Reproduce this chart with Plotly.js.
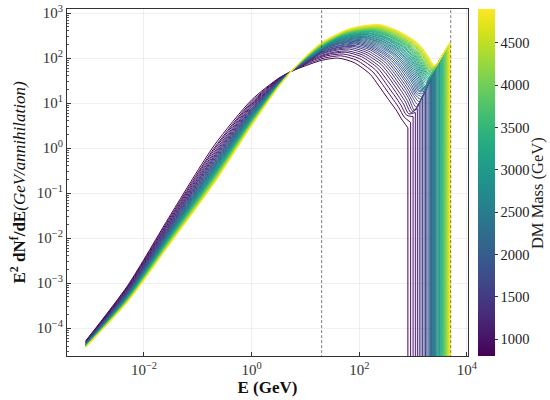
<!DOCTYPE html>
<html>
<head>
<meta charset="utf-8">
<script src="https://cdn.plot.ly/plotly-3.0.1.min.js"></script>
<style>html,body{margin:0;padding:0;background:#fff;}#chart{width:550px;height:400px;}</style>
</head>
<body>
<div id="chart"></div>
<script>
// Dark-matter masses (GeV), one spectrum per mass
const masses = [800,900,1000,1100,1200,1300,1400,1500,1600,1700,1800,1900,2000,2100,2200,2300,2400,2500,2600,2700,2800,2900,3000,3100,3200,3300,3400,3500,3600,3700,3800,3900,4000,4100,4200,4300,4400,4500,4600,4700,4800,4900];

// log10(E/GeV) for the low-energy part (fixed energies)
const logE_abs = [-3.08, -2.3, -1.5, -0.7, 0.0, 0.5, 0.73, 1.0, 1.3];
// log10(E/m) for the high-energy part (relative to the DM mass)
const u_rel = [-1.9, -1.6, -1.3, -1.0, -0.7, -0.55, -0.42, -0.3, -0.22, -0.12, 0];

// log10(E^2 dN/dE) at logE_abs (null = not used for that mass)
const logY_abs = [
[-4.28,-3.05,-1.47,0.05,1.07,1.55,1.70,null,null],
[-4.29,-3.07,-1.51,-0.01,1.03,1.54,1.70,null,null],
[-4.30,-3.09,-1.55,-0.05,1.00,1.53,1.70,null,null],
[-4.30,-3.11,-1.58,-0.10,0.97,1.52,1.70,null,null],
[-4.31,-3.13,-1.61,-0.14,0.94,1.51,1.70,1.87,null],
[-4.32,-3.15,-1.64,-0.18,0.92,1.50,1.70,1.88,null],
[-4.32,-3.16,-1.66,-0.21,0.89,1.49,1.70,1.89,null],
[-4.33,-3.18,-1.69,-0.24,0.87,1.48,1.70,1.90,null],
[-4.33,-3.19,-1.71,-0.27,0.85,1.48,1.70,1.91,null],
[-4.34,-3.20,-1.73,-0.30,0.83,1.47,1.70,1.91,null],
[-4.34,-3.21,-1.75,-0.33,0.82,1.47,1.70,1.92,null],
[-4.35,-3.22,-1.77,-0.35,0.80,1.46,1.70,1.93,null],
[-4.35,-3.23,-1.79,-0.38,0.78,1.45,1.70,1.93,null],
[-4.35,-3.24,-1.81,-0.40,0.77,1.45,1.70,1.94,null],
[-4.36,-3.25,-1.82,-0.42,0.75,1.44,1.70,1.94,null],
[-4.36,-3.26,-1.84,-0.44,0.74,1.44,1.70,1.95,2.18],
[-4.37,-3.27,-1.85,-0.46,0.73,1.44,1.70,1.95,2.19],
[-4.37,-3.28,-1.87,-0.48,0.71,1.43,1.70,1.96,2.20],
[-4.37,-3.28,-1.88,-0.50,0.70,1.43,1.70,1.96,2.20],
[-4.37,-3.29,-1.89,-0.51,0.69,1.42,1.70,1.96,2.21],
[-4.38,-3.30,-1.91,-0.53,0.68,1.42,1.70,1.97,2.22],
[-4.38,-3.31,-1.92,-0.55,0.66,1.41,1.70,1.97,2.23],
[-4.38,-3.31,-1.93,-0.56,0.65,1.41,1.70,1.98,2.23],
[-4.39,-3.32,-1.94,-0.58,0.64,1.41,1.70,1.98,2.24],
[-4.39,-3.33,-1.95,-0.59,0.63,1.40,1.70,1.98,2.25],
[-4.39,-3.33,-1.96,-0.61,0.62,1.40,1.70,1.99,2.26],
[-4.39,-3.34,-1.97,-0.62,0.62,1.40,1.70,1.99,2.26],
[-4.39,-3.34,-1.98,-0.63,0.61,1.40,1.70,1.99,2.27],
[-4.40,-3.35,-1.99,-0.65,0.60,1.39,1.70,2.00,2.27],
[-4.40,-3.35,-2.00,-0.66,0.59,1.39,1.70,2.00,2.28],
[-4.40,-3.36,-2.01,-0.67,0.58,1.39,1.70,2.00,2.29],
[-4.40,-3.37,-2.02,-0.68,0.57,1.38,1.70,2.01,2.29],
[-4.40,-3.37,-2.03,-0.70,0.56,1.38,1.70,2.01,2.30],
[-4.41,-3.38,-2.04,-0.71,0.56,1.38,1.70,2.01,2.30],
[-4.41,-3.38,-2.05,-0.72,0.55,1.38,1.70,2.01,2.31],
[-4.41,-3.38,-2.06,-0.73,0.54,1.37,1.70,2.02,2.31],
[-4.41,-3.39,-2.06,-0.74,0.53,1.37,1.70,2.02,2.32],
[-4.41,-3.39,-2.07,-0.75,0.53,1.37,1.70,2.02,2.32],
[-4.42,-3.40,-2.08,-0.76,0.52,1.37,1.70,2.02,2.33],
[-4.42,-3.40,-2.09,-0.77,0.51,1.36,1.70,2.03,2.33],
[-4.42,-3.41,-2.09,-0.78,0.51,1.36,1.70,2.03,2.34],
[-4.42,-3.41,-2.10,-0.79,0.50,1.36,1.70,2.03,2.34]
];

// log10(E^2 dN/dE) at E = m * 10^u_rel
const logY_rel = [
[1.83,1.95,2.00,1.90,1.64,1.40,1.18,0.98,0.85,0.65,0.45],
[1.88,2.00,2.05,1.95,1.69,1.46,1.24,1.04,0.90,0.69,0.57],
[1.93,2.05,2.09,1.99,1.74,1.51,1.29,1.09,0.94,0.73,0.70],
[1.97,2.09,2.13,2.03,1.78,1.55,1.34,1.13,0.98,0.76,0.79],
[2.01,2.12,2.16,2.06,1.81,1.60,1.38,1.17,1.02,0.79,0.88],
[2.05,2.16,2.20,2.09,1.85,1.63,1.42,1.21,1.05,0.82,0.97],
[2.08,2.19,2.23,2.12,1.88,1.67,1.45,1.25,1.09,0.84,1.06],
[2.11,2.22,2.26,2.15,1.91,1.70,1.49,1.28,1.11,0.91,1.15],
[2.14,2.24,2.28,2.18,1.94,1.73,1.52,1.31,1.14,0.97,1.21],
[2.17,2.27,2.31,2.20,1.96,1.76,1.55,1.34,1.17,1.03,1.27],
[2.19,2.29,2.33,2.22,1.99,1.79,1.57,1.37,1.19,1.09,1.33],
[2.22,2.32,2.35,2.24,2.01,1.82,1.60,1.39,1.21,1.15,1.39],
[2.24,2.34,2.37,2.26,2.03,1.84,1.63,1.42,1.23,1.21,1.45],
[2.26,2.36,2.39,2.28,2.06,1.86,1.65,1.44,1.26,1.26,1.50],
[2.28,2.38,2.41,2.30,2.08,1.89,1.67,1.46,1.27,1.31,1.55],
[2.30,2.40,2.43,2.32,2.09,1.91,1.69,1.48,1.29,1.36,1.60],
[2.32,2.42,2.45,2.34,2.11,1.93,1.71,1.50,1.31,1.41,1.65],
[2.34,2.43,2.46,2.35,2.13,1.95,1.73,1.52,1.33,1.46,1.70],
[2.36,2.45,2.48,2.37,2.15,1.97,1.75,1.54,1.34,1.50,1.74],
[2.37,2.47,2.49,2.38,2.16,1.98,1.77,1.56,1.36,1.55,1.79],
[2.39,2.48,2.51,2.40,2.18,2.00,1.79,1.57,1.39,1.59,1.83],
[2.41,2.50,2.52,2.41,2.19,2.02,1.81,1.59,1.44,1.64,1.88],
[2.42,2.51,2.54,2.43,2.21,2.03,1.82,1.61,1.48,1.68,1.92],
[2.44,2.53,2.55,2.44,2.22,2.05,1.84,1.62,1.51,1.71,1.95],
[2.45,2.54,2.56,2.45,2.24,2.07,1.85,1.64,1.54,1.74,1.98],
[2.46,2.55,2.58,2.46,2.25,2.08,1.87,1.65,1.56,1.76,2.00],
[2.48,2.57,2.59,2.48,2.26,2.10,1.88,1.67,1.59,1.79,2.03],
[2.49,2.58,2.60,2.49,2.28,2.11,1.90,1.68,1.62,1.82,2.06],
[2.50,2.59,2.61,2.50,2.29,2.12,1.91,1.69,1.64,1.84,2.08],
[2.51,2.60,2.62,2.51,2.30,2.14,1.92,1.71,1.67,1.87,2.11],
[2.53,2.61,2.63,2.52,2.31,2.15,1.94,1.72,1.69,1.89,2.13],
[2.54,2.62,2.64,2.53,2.32,2.16,1.95,1.73,1.72,1.92,2.16],
[2.55,2.63,2.65,2.54,2.33,2.17,1.96,1.74,1.74,1.94,2.18],
[2.56,2.64,2.66,2.55,2.34,2.18,1.97,1.76,1.76,1.96,2.20],
[2.57,2.65,2.67,2.56,2.35,2.20,1.99,1.77,1.78,1.98,2.22],
[2.58,2.66,2.68,2.57,2.36,2.21,2.00,1.78,1.80,2.00,2.24],
[2.59,2.67,2.69,2.58,2.37,2.22,2.01,1.79,1.82,2.02,2.26],
[2.60,2.68,2.70,2.59,2.38,2.23,2.02,1.80,1.84,2.04,2.28],
[2.61,2.69,2.71,2.60,2.39,2.24,2.03,1.81,1.86,2.06,2.30],
[2.62,2.70,2.72,2.60,2.40,2.25,2.04,1.82,1.88,2.08,2.32],
[2.63,2.71,2.73,2.61,2.41,2.26,2.05,1.83,1.89,2.09,2.33],
[2.64,2.72,2.74,2.62,2.42,2.27,2.06,1.84,1.91,2.11,2.35]
];

// Reference energies marked by dashed lines (GeV)
const refLinesE = [20, 5000];

// Tick labels
const xTickVals = [1e-2, 1, 1e2, 1e4];
const xTickText = ['10<sup>\u22122</sup>','10<sup>0</sup>','10<sup>2</sup>','10<sup>4</sup>'];
const yTickVals = [1e-4, 1e-3, 1e-2, 1e-1, 1, 1e1, 1e2, 1e3];
const yTickText = ['10<sup>\u22124</sup>','10<sup>\u22123</sup>','10<sup>\u22122</sup>','10<sup>\u22121</sup>','10<sup>0</sup>','10<sup>1</sup>','10<sup>2</sup>','10<sup>3</sup>'];
const cbTickVals = [1000,1500,2000,2500,3000,3500,4000,4500];
const cbTitle = 'DM Mass (GeV)';

const massMin = 800, massMax = 4900;
const FONT = 'Liberation Serif, serif';

// viridis colour scale (style)
const VIR = ['#440154','#48186a','#472d7b','#424086','#3b528b','#33638d','#2c728e','#26828e','#21918c','#1fa088','#28ae80','#3fbc73','#5ec962','#84d44b','#addc30','#d8e219','#fde725'];
function hex2rgb(h){return [parseInt(h.slice(1,3),16),parseInt(h.slice(3,5),16),parseInt(h.slice(5,7),16)];}
function viridis(t){
  t = Math.max(0, Math.min(1, t));
  const p = t*(VIR.length-1); const i = Math.min(Math.floor(p), VIR.length-2); const f = p - i;
  const a = hex2rgb(VIR[i]), b = hex2rgb(VIR[i+1]);
  return 'rgb(' + [0,1,2].map(k => Math.round(a[k] + (b[k]-a[k])*f)).join(',') + ')';
}
const vizScale = VIR.map((c,i)=>[i/(VIR.length-1), c]);

const traces = [];
const endY = [];
masses.forEach((m, i) => {
  const xs = [], ys = [];
  logY_abs[i].forEach((v, j) => { if (v !== null) { xs.push(Math.pow(10, logE_abs[j])); ys.push(Math.pow(10, v)); } });
  logY_rel[i].forEach((v, j) => { xs.push(m * Math.pow(10, u_rel[j])); ys.push(Math.pow(10, v)); });
  const col = viridis((m - massMin) / (massMax - massMin));
  traces.push({type:'scatter', mode:'lines', x:xs, y:ys, line:{color:col, width:1, shape:'spline', smoothing:0.7}, hoverinfo:'skip', showlegend:false});
  const yEnd = ys[ys.length-1];
  endY.push(yEnd);
  // spectrum ends at E = m
  traces.push({type:'scatter', mode:'lines', x:[m, m], y:[yEnd, 1e-7], line:{color:col, width:1}, hoverinfo:'skip', showlegend:false});
});

refLinesE.forEach(e => {
  traces.push({type:'scatter', mode:'lines', x:[e, e], y:[1e-7, 1e5], line:{color:'#444', width:0.7, dash:'3px,2px'}, hoverinfo:'skip', showlegend:false});
});

// colour bar carrier
traces.push({type:'scatter', mode:'markers', x:masses, y:endY, hoverinfo:'skip', showlegend:false,
  marker:{size:1, opacity:0, color:masses, colorscale:vizScale, cmin:massMin, cmax:massMax, showscale:true,
    colorbar:{x:1.026, xanchor:'left', y:0.5, yanchor:'middle', len:1, lenmode:'fraction', thickness:17, ypad:0, xpad:0,
      outlinewidth:0, ticks:'outside', ticklen:3, tickcolor:'#333', tickvals:cbTickVals,
      tickfont:{family:FONT, size:14.5, color:'#222'}}}});

const axisCommon = {type:'log', showline:true, mirror:true, linecolor:'#333', linewidth:1, ticks:'inside', ticklen:4, tickcolor:'#333',
  showgrid:true, gridcolor:'rgba(0,0,0,0.06)', gridwidth:1, zeroline:false,
  tickfont:{family:FONT, size:15, color:'#333'}};

const layout = {
  width:550, height:400,
  margin:{l:67, r:82, t:9, b:44},
  paper_bgcolor:'#fff', plot_bgcolor:'#fff',
  showlegend:false,
  font:{family:FONT, size:14, color:'#222'},
  xaxis:Object.assign({}, axisCommon, {range:[-3.43, 4.02], tickmode:'array', tickvals:xTickVals, ticktext:xTickText,
    title:{text:'<b>E (GeV)</b>', font:{family:FONT, size:17, color:'#111'}, standoff:4}}),
  yaxis:Object.assign({}, axisCommon, {range:[-4.62, 3.09], tickmode:'array', tickvals:yTickVals, ticktext:yTickText,
    minor:{ticks:'inside', ticklen:2, tickcolor:'#555', dtick:'D1', showgrid:false},
    title:{text:'<b>E<sup>2</sup> dN<sup>f</sup>/dE</b><i>(GeV/annihilation)</i>', font:{family:FONT, size:17, color:'#111'}, standoff:6}}),
  annotations:[{text:cbTitle, xref:'paper', yref:'paper', x:1.175, y:0.47, xanchor:'center', yanchor:'middle', textangle:-90,
    showarrow:false, font:{family:FONT, size:16.5, color:'#222'}}]
};

Plotly.newPlot('chart', traces, layout, {displayModeBar:false, staticPlot:true});
</script>
</body>
</html>
